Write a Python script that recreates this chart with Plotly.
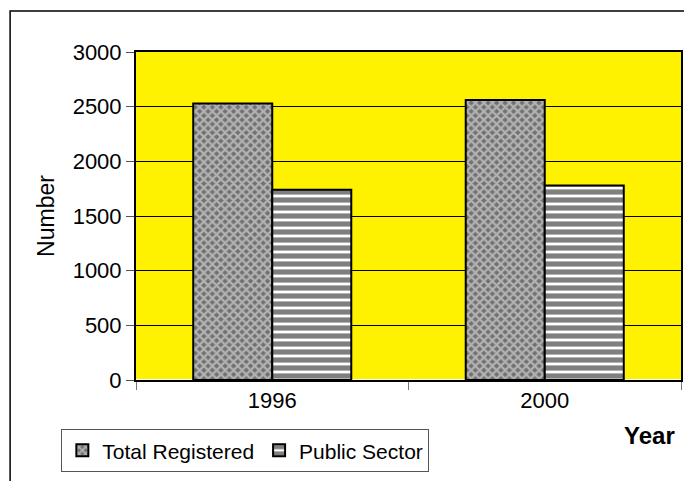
import plotly.graph_objects as go

years = ["1996", "2000"]
total_registered = [2530, 2560]
public_sector = [1740, 1780]

fig = go.Figure()

fig.add_trace(go.Bar(
    x=years, y=total_registered, name="Total Registered",
    marker=dict(
        color="#a0a0a0",
        line=dict(color="black", width=2),
        pattern=dict(shape="x", fgcolor="#f4f4f4", bgcolor="#707070", size=6, solidity=0.6),
    ),
))
fig.add_trace(go.Bar(
    x=years, y=public_sector, name="Public Sector",
    marker=dict(
        color="white",
        line=dict(color="black", width=2),
        pattern=dict(shape="-", fgcolor="black", bgcolor="white", size=8, solidity=0.65),
    ),
))

font = "Liberation Sans, Arial, sans-serif"

# page body keeps its default 8px margin, so the figure is a bit smaller
fig.update_layout(
    width=684, height=473,
    margin=dict(l=128, r=11, t=44, b=101, autoexpand=False),
    paper_bgcolor="white",
    plot_bgcolor="#fff200",
    barmode="group",
    bargap=0.42,
    bargroupgap=0,
    font=dict(family=font, size=22, color="black"),
    showlegend=True,
    legend=dict(
        orientation="h",
        x=-0.137, y=-0.15, xanchor="left", yanchor="top",
        bordercolor="#555555", borderwidth=1,
        font=dict(size=21),
        itemwidth=30,
    ),
    xaxis=dict(
        type="category",
        tickson="boundaries",
        ticks="outside", ticklen=8, tickcolor="#777777",
        showline=True, linecolor="black", linewidth=2, mirror=True,
        tickfont=dict(size=22),
    ),
    yaxis=dict(
        range=[0, 3000], dtick=500,
        ticks="outside", ticklen=8, tickcolor="#555555",
        showline=True, linecolor="black", linewidth=2, mirror=True,
        showgrid=True, gridcolor="black", gridwidth=1,
        tickfont=dict(size=22),
        title=dict(text="Number", font=dict(size=23), standoff=12),
    ),
    annotations=[dict(
        text="<b>Year</b>", x=0.943, y=-0.168, xref="paper", yref="paper",
        xanchor="center", yanchor="middle",
        showarrow=False, font=dict(size=24),
    )],
    shapes=[dict(
        type="rect", xref="paper", yref="paper",
        x0=-0.231, y0=-0.5, x1=1.2, y1=1.125,
        line=dict(color="black", width=1.5), fillcolor="rgba(0,0,0,0)", layer="below",
    )],
)

fig.write_html("out.html")
